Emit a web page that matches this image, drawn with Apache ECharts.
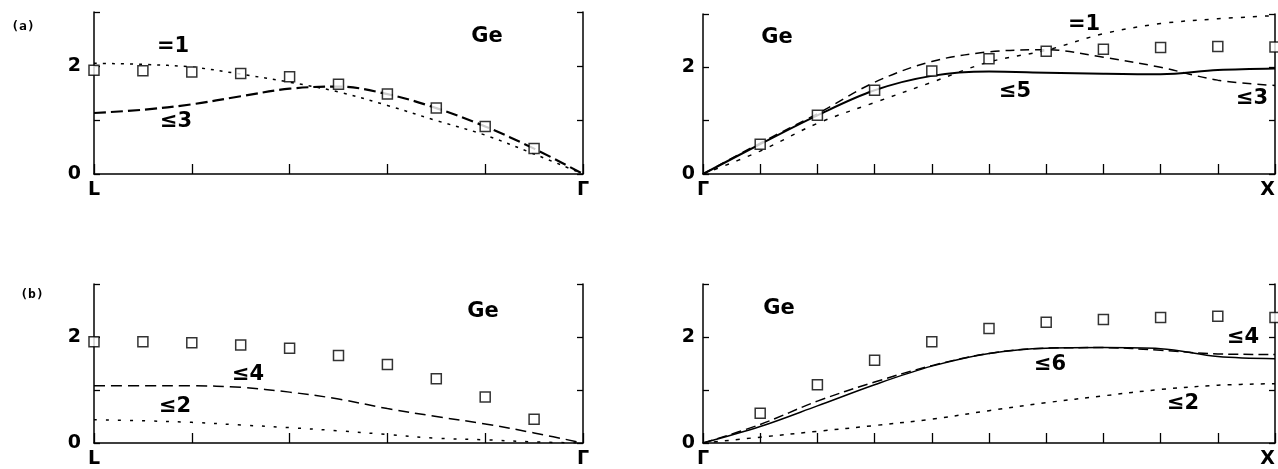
<!DOCTYPE html>
<html><head><meta charset="utf-8">
<script src="https://cdn.jsdelivr.net/npm/echarts@6/dist/echarts.min.js"></script>
<style>html,body{margin:0;padding:0;background:#fff}#c{width:1278px;height:469px}</style>
</head><body><div id="c"></div>
<script>
// ---------- data ----------
const yTickLabels = ['0', '2'];
const xLabelsLG = ['L', 'Γ'];
const xLabelsGX = ['Γ', 'X'];

// Panel (a) L–Γ  (x in tick units, L=0, Γ=5)
const aL_curveX = [0, 0.5, 1, 1.5, 2, 2.5, 3, 3.5, 4, 4.5, 5];
const aL_sqX = [0, 0.5, 1, 1.5, 2, 2.5, 3, 3.5, 4, 4.5];
const aL_sq = [1.92, 1.91, 1.89, 1.86, 1.80, 1.66, 1.48, 1.22, 0.88, 0.47];
const aL_eq1 = [2.05, 2.03, 1.98, 1.85, 1.70, 1.52, 1.27, 0.99, 0.72, 0.37, 0];
const aL_le3 = [1.13, 1.19, 1.29, 1.44, 1.58, 1.62, 1.48, 1.22, 0.88, 0.47, 0];

// Panel (a) Γ–X  (Γ=0, X=10)
const aR_curveX = [0, 1, 2, 3, 4, 5, 6, 7, 8, 9, 10];
const aR_sqX = [1, 2, 3, 4, 5, 6, 7, 8, 9, 10];
const aR_sq = [0.56, 1.10, 1.57, 1.93, 2.16, 2.30, 2.34, 2.37, 2.39, 2.38];
const aR_le5 = [0, 0.56, 1.10, 1.57, 1.84, 1.92, 1.90, 1.88, 1.87, 1.95, 1.98];
const aR_le3 = [0, 0.58, 1.13, 1.72, 2.11, 2.29, 2.33, 2.19, 2.00, 1.76, 1.66];
const aR_eq1 = [0, 0.43, 0.95, 1.34, 1.72, 2.10, 2.32, 2.63, 2.82, 2.91, 2.97];

// Panel (b) L–Γ
const bL_curveX = [0, 0.5, 1, 1.5, 2, 2.5, 3, 3.5, 4, 4.5, 5];
const bL_sqX = [0, 0.5, 1, 1.5, 2, 2.5, 3, 3.5, 4, 4.5];
const bL_sq = [1.91, 1.91, 1.89, 1.85, 1.79, 1.65, 1.48, 1.21, 0.87, 0.45];
const bL_le4 = [1.08, 1.08, 1.08, 1.05, 0.96, 0.83, 0.65, 0.50, 0.36, 0.19, 0];
const bL_le2 = [0.44, 0.42, 0.39, 0.34, 0.29, 0.23, 0.16, 0.09, 0.06, 0.02, 0];

// Panel (b) Γ–X
const bR_curveX = [0, 1, 2, 3, 4, 5, 6, 7, 8, 9, 10];
const bR_sqX = [1, 2, 3, 4, 5, 6, 7, 8, 9, 10];
const bR_sq = [0.56, 1.10, 1.56, 1.91, 2.16, 2.28, 2.33, 2.37, 2.39, 2.37];
const bR_le6 = [0, 0.31, 0.70, 1.10, 1.45, 1.69, 1.79, 1.80, 1.78, 1.63, 1.59];
const bR_le4 = [0, 0.35, 0.79, 1.15, 1.46, 1.69, 1.79, 1.80, 1.75, 1.68, 1.67];
const bR_le2 = [0, 0.11, 0.22, 0.33, 0.45, 0.61, 0.76, 0.89, 1.01, 1.09, 1.12];

// ---------- chart ----------
const FONT = '"DejaVu Sans", "Liberation Sans", sans-serif';
const INK = '#000';
const pair = (xs, ys) => ys.map((y, i) => [xs[i], y]);

const grids = [
  {left: 94, top: 12, width: 489, height: 162},
  {left: 703, top: 14, width: 573, height: 160},
  {left: 94, top: 284, width: 489, height: 161},
  {left: 703, top: 284, width: 573, height: 162}
];
const xMax = [5, 10, 5, 10];
const xLab = [xLabelsLG, xLabelsGX, xLabelsLG, xLabelsGX];

const xAxis = grids.map((g, i) => ({
  type: 'value', gridIndex: i, min: 0, max: xMax[i], interval: 1,
  axisLine: {lineStyle: {color: INK, width: 1.5}},
  axisTick: {inside: true, length: 10, lineStyle: {color: INK, width: 1.3}},
  splitLine: {show: false},
  axisLabel: {
    margin: 7, color: INK, fontFamily: FONT, fontWeight: 'bold', fontSize: 19,
    showMinLabel: true, showMaxLabel: true,
    alignMaxLabel: (i % 2 === 1) ? 'right' : 'center',
    formatter: v => v === 0 ? xLab[i][0] : (v === xMax[i] ? xLab[i][1] : '')
  }
}));

const yAxis = [];
grids.forEach((g, i) => {
  yAxis.push({
    type: 'value', gridIndex: i, min: 0, max: 3, interval: 1, position: 'left',
    axisLine: {show: true, lineStyle: {color: INK, width: 1.5}},
    axisTick: {show: true, inside: true, length: 6, lineStyle: {color: INK, width: 1.3}},
    splitLine: {show: false},
    axisLabel: {
      margin: (i % 2 === 0) ? 13 : 8, color: INK, fontFamily: FONT, fontWeight: 'bold', fontSize: 19,
      padding: [0, 0, 6, 0],
      formatter: v => v === 0 ? yTickLabels[0] : (v === 2 ? yTickLabels[1] : '')
    }
  });
  yAxis.push({
    type: 'value', gridIndex: i, min: 0, max: 3, interval: 1, position: 'right',
    axisLine: {show: true, lineStyle: {color: INK, width: 1.5}},
    axisTick: {show: true, inside: true, length: 6, lineStyle: {color: INK, width: 1.3}},
    splitLine: {show: false},
    axisLabel: {show: false}
  });
});

function line(gi, xs, ys, type, width) {
  return {
    type: 'line', xAxisIndex: gi, yAxisIndex: gi * 2, data: pair(xs, ys),
    smooth: 0.35, symbol: 'none', silent: true, animation: false,
    lineStyle: {color: INK, width: width, type: type}
  };
}
function squares(gi, xs, ys) {
  return {
    type: 'scatter', xAxisIndex: gi, yAxisIndex: gi * 2, data: pair(xs, ys),
    symbol: 'rect', symbolSize: 10, animation: false, z: 5,
    itemStyle: {color: '#fff', borderColor: INK, borderWidth: 1.5}
  };
}

const series = [
  line(0, aL_curveX, aL_eq1, [3, 6], 1.5),
  line(0, aL_curveX, aL_le3, [12, 5], 2.2),
  squares(0, aL_sqX, aL_sq),

  line(1, aR_curveX, aR_le5, 'solid', 2),
  line(1, aR_curveX, aR_le3, [9, 6], 1.5),
  line(1, aR_curveX, aR_eq1, [4, 8], 1.5),
  squares(1, aR_sqX, aR_sq),

  line(2, bL_curveX, bL_le4, [11, 6], 1.5),
  line(2, bL_curveX, bL_le2, [3, 9], 1.5),
  squares(2, bL_sqX, bL_sq),

  line(3, bR_curveX, bR_le6, 'solid', 1.5),
  line(3, bR_curveX, bR_le4, [10, 5], 1.5),
  line(3, bR_curveX, bR_le2, [4, 7], 1.5),
  squares(3, bR_sqX, bR_sq)
];

function txt(s, x, y, size, fam) {
  return {type: 'text', x: x, y: y, silent: true, z: 10,
    style: {text: s, fill: INK, font: 'bold ' + (size || 21) + 'px ' + (fam || FONT),
      textAlign: 'center', textVerticalAlign: 'middle'}};
}
const MONO = '"DejaVu Sans Mono", monospace';
const graphic = [
  txt('(a)', 23, 27, 13, MONO),
  txt('(b)', 32, 295, 13, MONO),
  txt('Ge', 487, 37), txt('Ge', 777, 38), txt('Ge', 483, 312), txt('Ge', 779, 309),
  txt('=1', 173, 47), txt('≤3', 176, 122),
  txt('=1', 1084, 25), txt('≤5', 1015, 92), txt('≤3', 1252, 99),
  txt('≤4', 248, 375), txt('≤2', 175, 407),
  txt('≤4', 1243, 338), txt('≤6', 1050, 365), txt('≤2', 1183, 404)
];

const chart = echarts.init(document.getElementById('c'), null, {renderer: 'canvas'});
chart.setOption({
  backgroundColor: '#fff', animation: false,
  grid: grids, xAxis: xAxis, yAxis: yAxis, series: series, graphic: graphic
});
</script></body></html>
